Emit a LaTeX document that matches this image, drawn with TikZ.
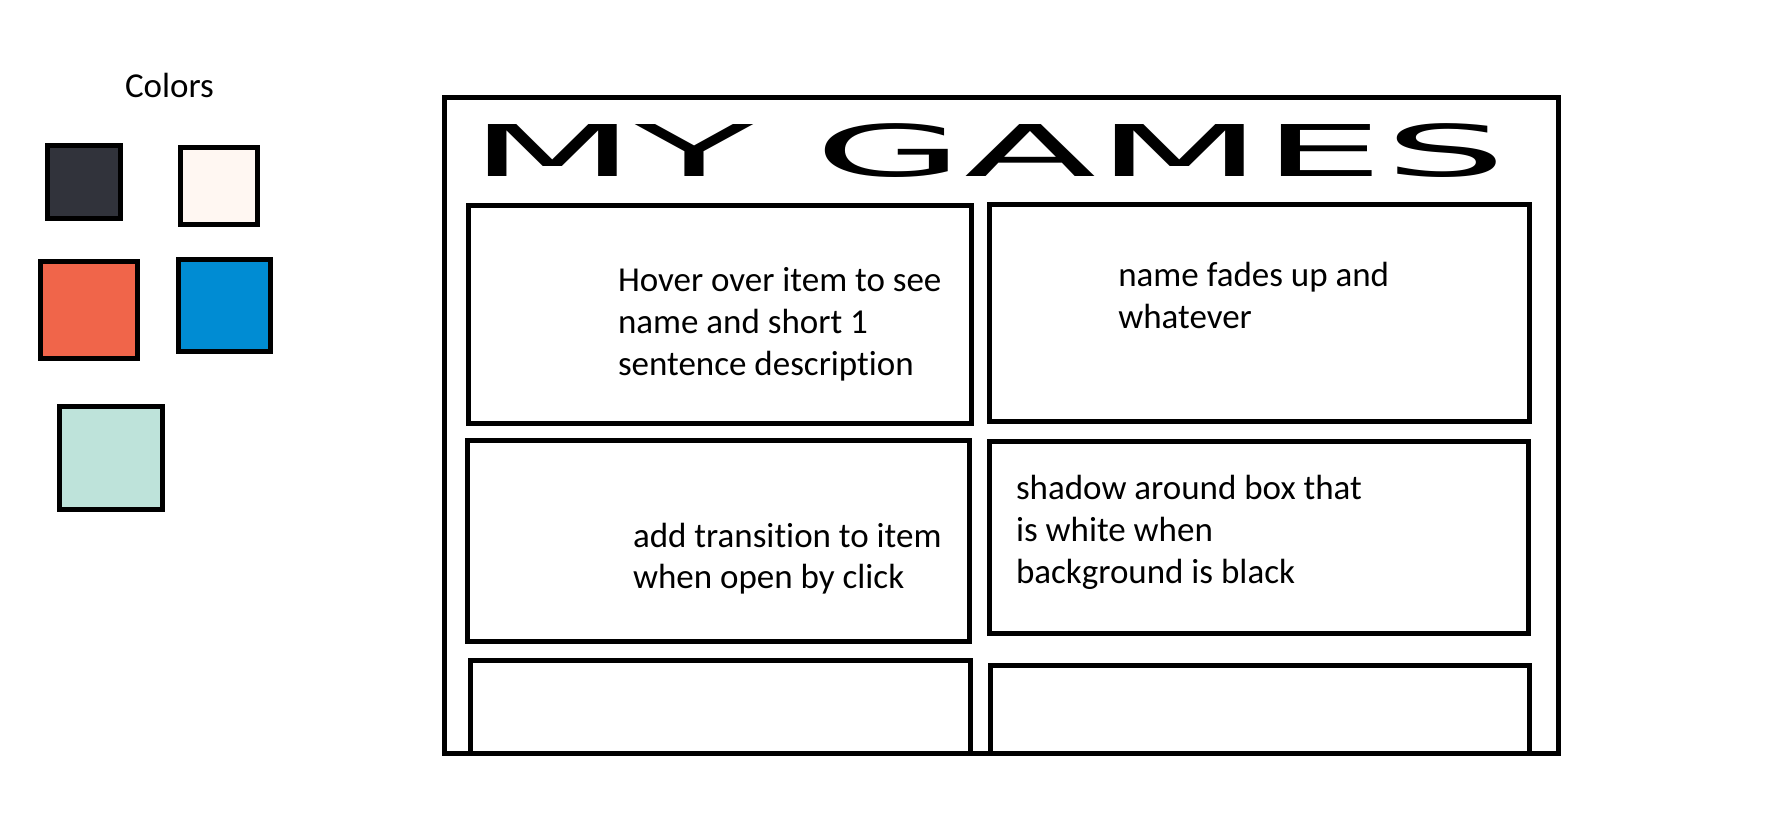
\documentclass[tikz,border=0pt]{standalone}
\usepackage{fontspec}
\setmainfont{Carlito}[Ligatures={NoCommon}]
\newfontfamily\titlefont{DejaVu Sans}
\definecolor{swdark}{RGB}{49,51,59}
\definecolor{swcream}{RGB}{255,247,242}
\definecolor{sworange}{RGB}{240,101,74}
\definecolor{swblue}{RGB}{0,140,211}
\definecolor{swmint}{RGB}{190,227,218}
\newcommand{\notelines}[1]{\vtop{\baselineskip=41.8pt\lineskiplimit=-100pt #1}}
\begin{document}
\begin{tikzpicture}[x=1pt,y=-1pt,
  frame/.style={draw=black,line width=5pt,inner sep=0pt,outer sep=0pt,anchor=north west},
  swatch/.style={draw=black,line width=4.7pt,inner sep=0pt,outer sep=0pt,anchor=north west},
  note/.style={anchor=base west,inner sep=0pt,outer sep=0pt,
    font=\fontsize{35}{41.8}\selectfont}]
\useasboundingbox (0,0) rectangle (1788,836);
% palette
\node[note] (colors) at (125,97.7) {Colors};
\node[swatch,fill=swdark,minimum width=72.7pt,minimum height=72.4pt] (sw1) at (47.5,145.8) {};
\node[swatch,fill=swcream,minimum width=76.4pt,minimum height=76.4pt] (sw2) at (180.8,147.8) {};
\node[swatch,fill=sworange,minimum width=96.7pt,minimum height=96.7pt] (sw3) at (40.5,261.5) {};
\node[swatch,fill=swblue,minimum width=91.7pt,minimum height=91.7pt] (sw4) at (178.5,259.5) {};
\node[swatch,fill=swmint,minimum width=102.4pt,minimum height=102.7pt] (sw5) at (59.8,406.5) {};
% outer frame
\node[frame,minimum width=1114pt,minimum height=656pt] (page) at (444.5,97.5) {};
\node[anchor=base west,inner sep=0pt,outer sep=0pt] (title) at (469,176.5)
  {\scalebox{2.707}[1]{\titlefont\fontsize{71.3}{80}\selectfont MY GAMES}};
% cards
\node[frame,minimum width=503pt,minimum height=218.5pt] (b1) at (468.5,205) {};
\node[frame,minimum width=539.5pt,minimum height=217pt] (b2) at (989.5,204.5) {};
\node[frame,minimum width=501.5pt,minimum height=201pt] (b3) at (467.5,440.5) {};
\node[frame,minimum width=538.5pt,minimum height=191.5pt] (b4) at (989.5,441.5) {};
\node[frame,minimum width=500.5pt,minimum height=93pt] (b5) at (470,660.5) {};
\node[frame,minimum width=538.5pt,minimum height=88.5pt] (b6) at (990.5,665) {};
% notes
\node[note] (t1) at (618,291.5) {\notelines{\hbox{Hover over item to see}\hbox{name and short 1}\hbox{sentence description}}};
\node[note] (t2) at (1118.3,286.5) {\notelines{\hbox{name fades up and}\hbox{whatever}}};
\node[note] (t3) at (633,547) {\notelines{\hbox{add transition to item}\hbox{when open by click}}};
\node[note] (t4) at (1016,499.5) {\notelines{\hbox{shadow around box that}\hbox{is white when}\hbox{background is black}}};
\end{tikzpicture}
\end{document}
